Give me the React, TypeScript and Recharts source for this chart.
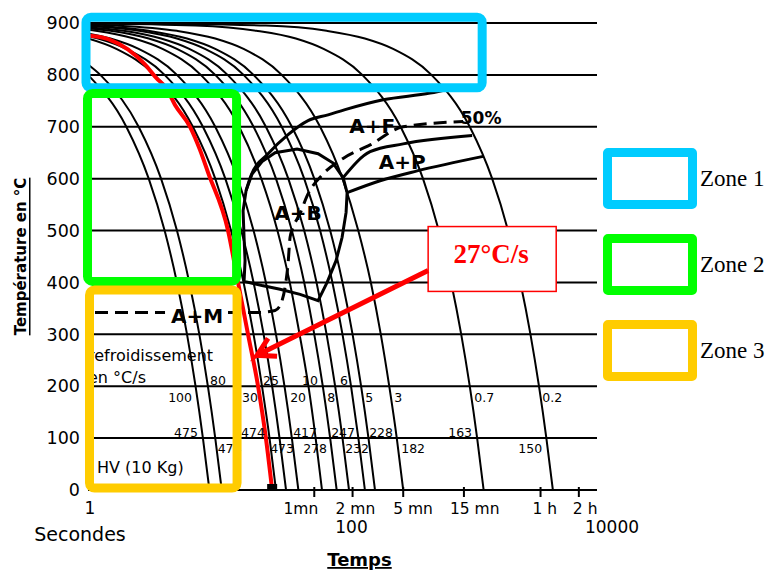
import React from "react";
import {
  LineChart,
  Line,
  XAxis,
  YAxis,
  CartesianGrid,
  ReferenceArea,
  ReferenceDot,
} from "recharts";

const FONT = "DejaVu Sans";

// axes
const yTicks = [0, 100, 200, 300, 400, 500, 600, 700, 800, 900];
const xNumberTicks = [1, 100, 10000];
const xTimeTicks = [60, 120, 300, 900, 3600, 7200];
const xTimeLabels = ["1mn", "2 mn", "5 mn", "15 mn", "1 h", "2 h"];
const xTimeLabelShift = [4, -17, -10, -14, -8, -6];

// cooling curves: [time (s), temperature (°C)]
const c100 = [[1, 800], [2, 700], [3, 600], [4, 500], [5, 400], [6, 300], [7, 200], [8, 100], [9, 0]];
const c80 = [[1, 820], [1.25, 800], [2.5, 700], [3.75, 600], [5, 500], [6.25, 400], [7.5, 300], [8.75, 200], [10, 100], [11.25, 0]];
const c30 = [[1, 870], [1.67, 850], [3.33, 800], [6.67, 700], [10, 600], [13.3, 500], [16.7, 400], [20, 300], [23.3, 200], [26.7, 100], [30, 0]];
const c25 = [[1, 875], [1.2, 870], [2, 850], [4, 800], [8, 700], [12, 600], [16, 500], [20, 400], [24, 300], [28, 200], [32, 100], [36, 0]];
const c20 = [[1, 880], [1.5, 870], [2.5, 850], [5, 800], [10, 700], [15, 600], [20, 500], [25, 400], [30, 300], [35, 200], [40, 100], [45, 0]];
const c13 = [[1, 887], [1.15, 885], [2.3, 870], [3.85, 850], [7.7, 800], [15.4, 700], [23, 600], [30.8, 500], [38.5, 400], [46, 300], [54, 200], [61.5, 100], [69, 0]];
const c10 = [[1, 890], [1.5, 885], [3, 870], [5, 850], [10, 800], [20, 700], [30, 600], [40, 500], [50, 400], [60, 300], [70, 200], [80, 100], [90, 0]];
const c8 = [[1, 892], [1.9, 885], [3.75, 870], [6.25, 850], [12.5, 800], [25, 700], [37.5, 600], [50, 500], [62.5, 400], [75, 300], [87.5, 200], [100, 100], [112.5, 0]];
const c6 = [[1, 894], [2.5, 885], [5, 870], [8.3, 850], [16.7, 800], [33.3, 700], [50, 600], [66.7, 500], [83.3, 400], [100, 300], [116.7, 200], [133.3, 100], [150, 0]];
const c5 = [[1, 895], [3, 885], [6, 870], [10, 850], [20, 800], [40, 700], [60, 600], [80, 500], [100, 400], [120, 300], [140, 200], [160, 100], [180, 0]];
const c3 = [[1, 897], [1.7, 895], [5, 885], [10, 870], [16.7, 850], [33.3, 800], [66.7, 700], [100, 600], [133, 500], [167, 400], [200, 300], [233, 200], [267, 100], [300, 0]];
const c07 = [[1, 899], [7, 895], [21, 885], [43, 870], [71, 850], [143, 800], [286, 700], [429, 600], [571, 500], [714, 400], [857, 300], [1000, 200], [1143, 100], [1286, 0]];
const c02 = [[1, 900], [25, 895], [75, 885], [150, 870], [250, 850], [500, 800], [1000, 700], [1500, 600], [2000, 500], [2500, 400], [3000, 300], [3500, 200], [4000, 100], [4500, 0]];
const coolingCurves = [c100, c80, c30, c25, c20, c13, c10, c8, c6, c5, c3, c07, c02];

// red curve drawn over the diagram (27 °C/s)
const redCurve = [[1, 876], [1.44, 869], [2.06, 849], [2.81, 820], [3.44, 794], [4.1, 775], [4.83, 742], [6.34, 700], [7.6, 655], [8.8, 611], [12.6, 500], [15.1, 400], [18.1, 300], [21.7, 200], [25, 100], [28, 0]];
const redArrow = [[471, 423], [21.3, 259.6], [26.0, 292.3], [21.3, 259.6], [30.6, 257.7]];

// transformation domains
const bainiteLoop = [[16.84, 402], [17.15, 442], [16.84, 487], [16.55, 538], [17.47, 577], [19.46, 609], [23.33, 633], [29.52, 650], [43.97, 657], [64.3, 648], [84.4, 630], [101.1, 602], [108.7, 573], [106.7, 535], [99.3, 487], [89.0, 442], [75.7, 400], [64.3, 365], [46.42, 377], [32.32, 387], [23.33, 394], [16.84, 402]];
const ferriteStart = [[17.47, 577], [19.11, 606], [26.0, 648], [37.36, 685], [53.65, 712], [77.0, 723], [104.8, 733], [208.5, 752], [488, 765], [701, 773]];
const pearliteStart = [[101.1, 602], [164.8, 652], [299.6, 667], [1044, 683]];
const pearliteEnd = [[108.7, 573], [197.6, 596], [386, 615], [1275, 643]];
const dashedLine = [[1.135, 342], [4.03, 342], [6, null], [12.6, 342], [21.7, 342], [29.52, 346], [32.91, 360], [36.04, 404], [37.36, 437], [38.73, 487], [40.89, 506], [46.42, 533], [52.7, 567], [70.4, 609], [101.1, 639], [164.8, 665], [299.6, 700], [887, 710]];

// texts placed in the plot: [text, time, temperature]
const domainLabels = [["A+F", 170.9, 702], ["A+P", 294.1, 633], ["A+B", 44.77, 533], ["A+M", 7.19, 334.6]];
const percentLabel = ["50%", 1229, 717];
const rateLabels = [["100", 5.29, 178.8], ["80", 10.52, 211.5], ["30", 18.78, 178.8], ["25", 27.46, 211.5], ["20", 44.77, 178.8], ["10", 55.6, 211.5], ["8", 81.4, 178.8], ["6", 102.9, 211.5], ["5", 161.9, 178.8], ["3", 273.6, 178.8], ["0.7", 1298, 178.8], ["0.2", 4444, 178.8]];
const hvLabels = [["475", 5.89, 111.5], ["474", 12.96, 80.8], ["474", 19.8, 111.5], ["473", 33.5, 80.8], ["417", 50.8, 111.5], ["278", 60.9, 80.8], ["247", 101.1, 111.5], ["232", 130.2, 80.8], ["228", 201.1, 111.5], ["182", 358.9, 80.8], ["163", 840.6, 111.5], ["150", 2984, 80.8]];
const noteLabels = [["refroidissement", 1, 259.6], ["en °C/s", 1, 217.3], ["HV (10 Kg)", 1.177, 44.2]];

// zones: [t1, t2, T1, T2]
const zoneNames = ["Zone 1", "Zone 2", "Zone 3"];
const zoneColors = ["#00CCFF", "#00FF00", "#FFCC00"];
const zoneExtents = [[0.9645, 1252, 775, 911], [0.991, 14.71, 402, 764], [1.0275, 14.84, 3.8, 385.6]];
const rateBox = [471, 4779, 382.7, 507.7];
const rateText = ["27°C/s", 1473, 454];

const toPts = (arr: any[]) => arr.map(([t, T]) => ({ t, T }));

const TimeTick = (props: any) => {
  const { x, y, payload } = props;
  const v = payload.value;
  const i = xTimeTicks.indexOf(v);
  if (i >= 0) {
    return (
      <g>
        <line x1={x} x2={x} y1={y - 3} y2={y + 7} stroke="#000" strokeWidth={2} />
        <text x={x + xTimeLabelShift[i]} y={y + 24} textAnchor={i === 0 ? "end" : "start"} fontSize={15.5} fontFamily={FONT} fill="#000">
          {xTimeLabels[i]}
        </text>
      </g>
    );
  }
  if (v === 1) {
    return (
      <g>
        <text x={x + 2} y={y + 24} textAnchor="middle" fontSize={17} fontFamily={FONT} fill="#000">1</text>
        <text x={x - 8} y={y + 51} textAnchor="middle" fontSize={19} fontFamily={FONT} fill="#000">Secondes</text>
      </g>
    );
  }
  return (
    <text x={x + (v === 100 ? 9 : 15)} y={y + 43} textAnchor="middle" fontSize={17} fontFamily={FONT} fill="#000">
      {v}
    </text>
  );
};

const textDot = (key: string, label: any[], style: any) => (
  <ReferenceDot
    key={key}
    x={label[1]}
    y={label[2]}
    r={0}
    ifOverflow="visible"
    zIndex={1200}
    shape={(p: any) => (
      <text x={p.cx} y={p.cy} dominantBaseline="central" fill="#000" fontFamily={FONT} {...style}>
        {label[0]}
      </text>
    )}
  />
);

export default function App() {
  return (
    <div style={{ position: "absolute", left: 0, top: 0, width: 769, height: 572, background: "#fff" }}>
      <LineChart width={769} height={572} margin={{ top: 23, right: 172, bottom: 0, left: 0 }}>
        <CartesianGrid vertical={false} stroke="#000" strokeWidth={2} />
        <XAxis
          dataKey="t"
          type="number"
          scale="log"
          domain={[1, 10000]}
          allowDataOverflow
          ticks={[...xNumberTicks, ...xTimeTicks].sort((a, b) => a - b)}
          interval={0}
          tick={<TimeTick />}
          tickLine={false}
          tickSize={0}
          tickMargin={0}
          axisLine={{ stroke: "#000", strokeWidth: 2 }}
          height={82}
          label={{
            content: (p: any) => {
              const vb = p.viewBox;
              return (
                <text x={vb.x + vb.width / 2 + 17} y={566} textAnchor="middle" fontSize={18} fontWeight="bold" fontFamily={FONT} fill="#000" style={{ textDecoration: "underline" }}>
                  Temps
                </text>
              );
            },
          }}
        />
        <YAxis
          type="number"
          domain={[0, 900]}
          allowDataOverflow
          ticks={yTicks}
          interval={0}
          tickLine={false}
          axisLine={false}
          tickSize={0}
          tickMargin={8}
          width={88}
          tick={{ fill: "#000", fontSize: 17.5, fontFamily: FONT }}
          label={{
            content: (p: any) => {
              const vb = p.viewBox;
              const cy = vb.y + vb.height / 2;
              return (
                <text x={21} y={cy} transform={`rotate(-90, 21, ${cy})`} textAnchor="middle" dominantBaseline="central" fontSize={15} fontWeight="bold" fontFamily={FONT} fill="#000" style={{ textDecoration: "underline" }}>
                  Température en °C
                </text>
              );
            },
          }}
        />

        {coolingCurves.map((c, i) => (
          <Line key={"c" + i} data={toPts(c)} dataKey="T" type="monotone" stroke="#000" strokeWidth={2} dot={false} activeDot={false} isAnimationActive={false} />
        ))}

        <Line data={toPts(bainiteLoop)} dataKey="T" type="linear" stroke="#000" strokeWidth={3} dot={false} activeDot={false} isAnimationActive={false} />
        <Line data={toPts(ferriteStart)} dataKey="T" type="monotone" stroke="#000" strokeWidth={3} dot={false} activeDot={false} isAnimationActive={false} />
        <Line data={toPts(pearliteStart)} dataKey="T" type="monotone" stroke="#000" strokeWidth={3} dot={false} activeDot={false} isAnimationActive={false} />
        <Line data={toPts(pearliteEnd)} dataKey="T" type="monotone" stroke="#000" strokeWidth={3} dot={false} activeDot={false} isAnimationActive={false} />
        <Line data={toPts(dashedLine)} dataKey="T" type="monotone" stroke="#000" strokeWidth={3} strokeDasharray="13 7" dot={false} activeDot={false} isAnimationActive={false} />

        <Line data={toPts(redCurve)} dataKey="T" type="monotone" stroke="#FF0000" strokeWidth={4} dot={false} activeDot={false} isAnimationActive={false} />

        {domainLabels.map((l, i) => textDot("d" + i, l, { fontSize: 20, fontWeight: "bold", textAnchor: "middle" }))}
        {textDot("pct", percentLabel, { fontSize: 17, fontWeight: "bold", textAnchor: "middle" })}
        {rateLabels.map((l, i) => textDot("r" + i, l, { fontSize: 12.5, textAnchor: "middle" }))}
        {hvLabels.map((l, i) => textDot("h" + i, l, { fontSize: 12.5, textAnchor: "middle" }))}
        {noteLabels.map((l, i) => textDot("n" + i, l, { fontSize: 16, textAnchor: "start" }))}

        <ReferenceDot
          x={28}
          y={0}
          r={0}
          ifOverflow="visible"
          zIndex={1200}
          shape={(p: any) => <rect x={p.cx - 5} y={p.cy - 6} width={10} height={6} fill="#000" />}
        />

        {zoneExtents.map((z, i) => (
          <ReferenceArea
            key={"z" + i}
            x1={z[0]}
            x2={z[1]}
            y1={z[2]}
            y2={z[3]}
            ifOverflow="visible"
            zIndex={1300}
            shape={(p: any) => (
              <rect x={p.x} y={p.y} width={p.width} height={p.height} rx={5} fill="none" stroke={zoneColors[i]} strokeWidth={9} />
            )}
          />
        ))}

        <ReferenceArea
          x1={rateBox[0]}
          x2={rateBox[1]}
          y1={rateBox[2]}
          y2={rateBox[3]}
          ifOverflow="visible"
          zIndex={1300}
          shape={(p: any) => (
            <rect x={p.x} y={p.y} width={p.width} height={p.height} fill="#fff" stroke="#FF0000" strokeWidth={1.5} />
          )}
        />
        <ReferenceDot
          x={rateText[1] as number}
          y={rateText[2] as number}
          r={0}
          ifOverflow="visible"
          zIndex={1400}
          shape={(p: any) => (
            <text x={p.cx} y={p.cy} textAnchor="middle" dominantBaseline="central" fill="#FF0000" fontSize={27} fontWeight="bold" fontFamily="Liberation Serif">
              {rateText[0]}
            </text>
          )}
        />
        <Line data={toPts(redArrow)} dataKey="T" type="linear" stroke="#FF0000" strokeWidth={5} strokeLinejoin="miter" dot={false} activeDot={false} isAnimationActive={false} zIndex={1500} />
      </LineChart>

      {zoneNames.map((n, i) => (
        <div key={n} style={{ position: "absolute", left: 603, top: 148 + i * 86, display: "flex", alignItems: "center" }}>
          <div style={{ width: 94, height: 61, border: `9px solid ${zoneColors[i]}`, borderRadius: 5, boxSizing: "border-box" }} />
          <span style={{ fontFamily: "Liberation Serif", fontSize: 23, marginLeft: 3, color: "#000" }}>{n}</span>
        </div>
      ))}
    </div>
  );
}
